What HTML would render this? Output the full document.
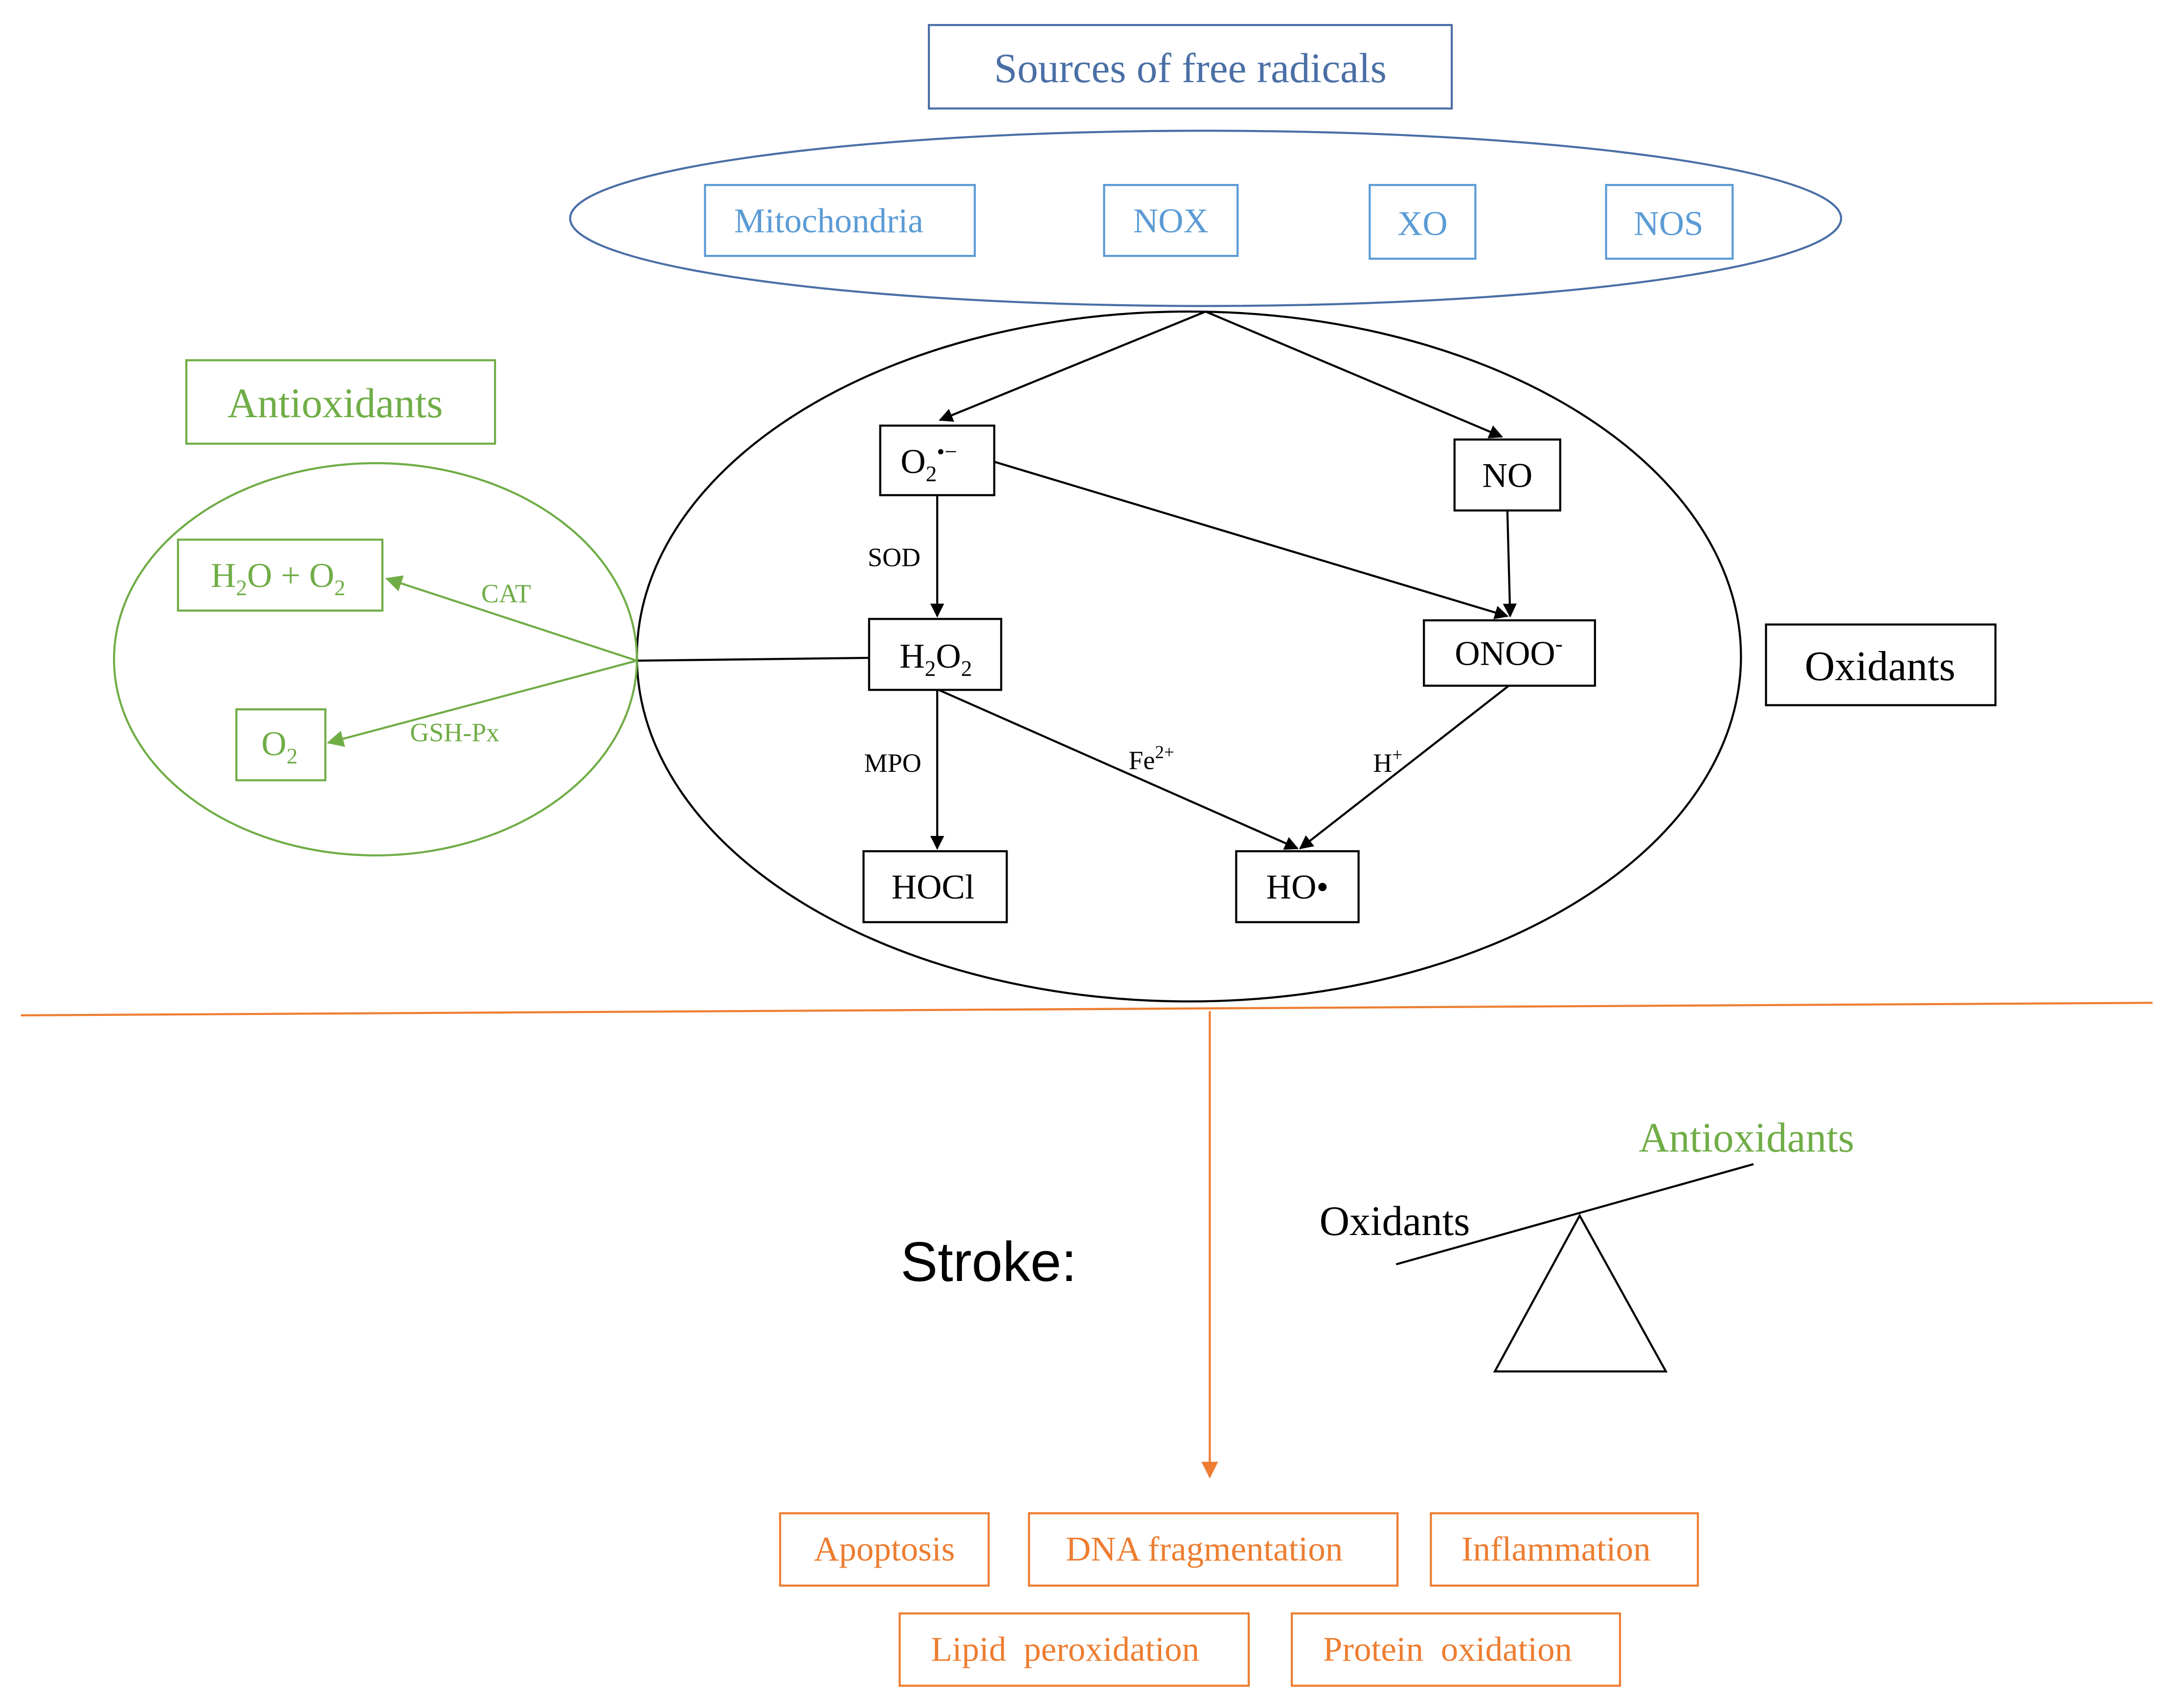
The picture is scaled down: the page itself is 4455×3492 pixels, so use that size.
<!DOCTYPE html>
<html><head><meta charset="utf-8"><style>
html,body{margin:0;padding:0;background:#fff;}
svg{display:block;}
text{font-family:"Liberation Serif",serif;white-space:pre;}
</style></head><body>
<svg width="4455" height="3492" viewBox="0 0 1567 1228" preserveAspectRatio="none" xmlns="http://www.w3.org/2000/svg">
<defs>
<marker id="ab" markerWidth="10" markerHeight="10" refX="9" refY="5" orient="auto" markerUnits="userSpaceOnUse"><path d="M0,0 L10,5 L0,10 z" fill="#000"/></marker>
<marker id="ag" markerWidth="12" markerHeight="12" refX="11" refY="6" orient="auto" markerUnits="userSpaceOnUse"><path d="M0,0 L12,6 L0,12 z" fill="#70ad47"/></marker>
<marker id="ao" markerWidth="12" markerHeight="12" refX="11" refY="6" orient="auto" markerUnits="userSpaceOnUse"><path d="M0,0 L12,6 L0,12 z" fill="#ed7d31"/></marker>
</defs>
<rect width="1567" height="1228" fill="#fff"/>
<rect x="668" y="18" width="376" height="60" fill="none" stroke="#4a6fa5" stroke-width="1.5"/>
<text x="856" y="59" font-size="30" fill="#4a6fa5" text-anchor="middle">Sources of free radicals</text>
<ellipse cx="867" cy="157" rx="457" ry="63" fill="none" stroke="#4a6fa5" stroke-width="1.5"/>
<g fill="none" stroke="#5b9bd5" stroke-width="1.5">
<rect x="507" y="133" width="194" height="51"/><rect x="794" y="133" width="96" height="51"/>
<rect x="985" y="133" width="76" height="53"/><rect x="1155" y="133" width="91" height="53"/></g>
<g font-size="25" fill="#5b9bd5" text-anchor="middle">
<text x="596" y="167">Mitochondria</text><text x="842" y="167">NOX</text><text x="1023" y="169">XO</text><text x="1200" y="169">NOS</text></g>
<ellipse cx="855" cy="472" rx="397" ry="248" fill="none" stroke="#000" stroke-width="1.5"/>
<g stroke="#000" stroke-width="1.5" fill="none" marker-end="url(#ab)">
<line x1="867" y1="224" x2="676" y2="302"/>
<line x1="867" y1="224" x2="1080" y2="314"/>
<line x1="674" y1="356" x2="674" y2="443"/>
<line x1="715" y1="332" x2="1084" y2="443"/>
<line x1="1084" y1="367" x2="1086" y2="443"/>
<line x1="674" y1="496" x2="674" y2="610"/>
<line x1="675" y1="496" x2="933" y2="610"/>
<line x1="1085" y1="493" x2="935" y2="610"/>
</g>
<line x1="625" y1="473" x2="458" y2="475" stroke="#000" stroke-width="1.5"/>
<g fill="#fff" stroke="#000" stroke-width="1.5">
<rect x="633" y="306" width="82" height="50"/><rect x="1046" y="316" width="76" height="51"/>
<rect x="625" y="445" width="95" height="51"/><rect x="1024" y="446" width="123" height="47"/>
<rect x="621" y="612" width="103" height="51"/><rect x="889" y="612" width="88" height="51"/>
<rect x="1270" y="449" width="165" height="58"/></g>
<g font-size="25" fill="#000" text-anchor="middle">
<text x="668" y="340">O<tspan font-size="16" dy="6">2</tspan><tspan font-size="16" dy="-16">•−</tspan></text>
<text x="1084" y="350">NO</text>
<text x="673" y="480">H<tspan font-size="16" dy="6">2</tspan><tspan dy="-6">O</tspan><tspan font-size="16" dy="6">2</tspan></text>
<text x="1085" y="478">ONOO<tspan font-size="16" dy="-10">-</tspan></text>
<text x="671" y="646">HOCl</text><text x="933" y="646">HO•</text>
<text x="1352" y="489" font-size="30">Oxidants</text></g>
<g font-size="19" fill="#000" text-anchor="middle">
<text x="643" y="407">SOD</text><text x="642" y="555">MPO</text>
<text x="828" y="553">Fe<tspan font-size="13" dy="-8">2+</tspan></text>
<text x="998" y="555">H<tspan font-size="13" dy="-8">+</tspan></text></g>
<rect x="134" y="259" width="222" height="60" fill="none" stroke="#70ad47" stroke-width="1.5"/>
<text x="241" y="300" font-size="30" fill="#70ad47" text-anchor="middle">Antioxidants</text>
<ellipse cx="270" cy="474" rx="188" ry="141" fill="none" stroke="#70ad47" stroke-width="1.5"/>
<rect x="128" y="388" width="147" height="51" fill="none" stroke="#70ad47" stroke-width="1.5"/>
<rect x="170" y="510" width="64" height="51" fill="none" stroke="#70ad47" stroke-width="1.5"/>
<g stroke="#70ad47" stroke-width="1.5" marker-end="url(#ag)">
<line x1="458" y1="475" x2="278" y2="416"/><line x1="458" y1="475" x2="236" y2="534"/></g>
<g font-size="25" fill="#70ad47" text-anchor="middle">
<text x="200" y="422">H<tspan font-size="16" dy="6">2</tspan><tspan dy="-6">O + O</tspan><tspan font-size="16" dy="6">2</tspan></text>
<text x="201" y="543">O<tspan font-size="16" dy="6">2</tspan></text></g>
<g font-size="19" fill="#70ad47" text-anchor="middle"><text x="364" y="433">CAT</text><text x="327" y="533">GSH-Px</text></g>
<line x1="15" y1="730" x2="1548" y2="721" stroke="#ed7d31" stroke-width="1.5"/>
<line x1="870" y1="727" x2="870" y2="1062" stroke="#ed7d31" stroke-width="1.5" marker-end="url(#ao)"/>
<text x="711" y="921" font-size="40" text-anchor="middle" fill="#000" style="font-family:'Liberation Sans',sans-serif">Stroke:</text>
<line x1="1004" y1="909" x2="1261" y2="837" stroke="#000" stroke-width="1.5"/>
<polygon points="1136,874 1075,986 1198,986" fill="none" stroke="#000" stroke-width="1.5"/>
<text x="1003" y="888" font-size="30" text-anchor="middle" fill="#000">Oxidants</text>
<text x="1256" y="828" font-size="30" text-anchor="middle" fill="#70ad47">Antioxidants</text>
<g fill="none" stroke="#ed7d31" stroke-width="1.5">
<rect x="561" y="1088" width="150" height="52"/><rect x="740" y="1088" width="265" height="52"/>
<rect x="1029" y="1088" width="192" height="52"/><rect x="647" y="1160" width="251" height="52"/>
<rect x="929" y="1160" width="236" height="52"/></g>
<g font-size="25" fill="#ed7d31" text-anchor="middle">
<text x="636" y="1122">Apoptosis</text><text x="866" y="1122">DNA fragmentation</text>
<text x="1119" y="1122">Inflammation</text><text x="766" y="1194">Lipid&#160; peroxidation</text>
<text x="1041" y="1194">Protein&#160; oxidation</text></g>
</svg>
</body></html>
